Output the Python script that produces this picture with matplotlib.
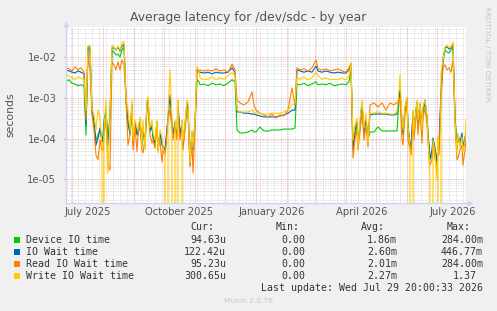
import datetime as dt

import numpy as np
import matplotlib
matplotlib.use('Agg')
import matplotlib.pyplot as plt
import matplotlib.dates as mdates
from matplotlib.lines import Line2D
from matplotlib.patches import Rectangle
from matplotlib.ticker import LogLocator, FixedLocator, NullFormatter

# ------------------------------- data (one point ~ one day)

start = dt.datetime(2025, 6, 24, 17, 0)

day = [0, 3, 6, 9, 12, 15, 18, 20, 22, 24, 26, 28, 30, 32, 34, 36, 37, 38, 40, 42, 44, 46, 48, 50, 52, 54, 56, 58,
       60, 62, 64, 66, 67, 69, 71, 72, 74, 76, 77, 79, 81, 82, 84, 86, 87, 89, 91, 92, 94, 96, 97, 99, 100, 102,
       104, 106, 107, 109, 111, 112, 114, 116, 117, 119, 121, 122, 124, 126, 127, 129, 131, 133,
       134, 138, 142, 146, 150, 154, 158, 162, 166, 169,
       171, 174, 178, 182, 186, 188, 190, 194, 198, 202, 206, 210, 214, 218, 222, 226, 229,
       231, 234, 238, 242, 246, 250, 252, 256, 260, 264, 268, 272, 276, 280, 283, 285,
       287, 289, 291, 292, 294, 296, 298, 300, 302,
       304, 308, 312, 316, 320, 324, 328, 331,
       333, 334, 336, 337, 339, 341, 342, 344, 345, 347, 348, 351, 352, 354, 356, 357, 359, 361, 362, 364,
       366, 367, 369, 371, 372, 373, 375,
       377, 379, 381, 383, 385, 387, 389,
       391, 392, 394, 396, 397, 399, 400]

device = [2.5e-3, 2.8e-3, 2.3e-3, 2.2e-3, 2.0e-3, 2.1e-3, 2.0e-3, 1.22e-4, 1.7e-2, 1.8e-2,
          5.0e-4, 2.15e-4, 9.2e-5, 1.22e-4, 1.62e-4, 9.2e-5, 1.22e-4, 2.86e-4, 5.0e-4, 9.2e-5,
          3.8e-4, 1.5e-2, 1.35e-2, 1.14e-2, 1.2e-2, 1.02e-2, 1.5e-2, 1.8e-2,
          8.9e-4, 2.86e-4, 1.22e-4, 5.6e-4, 6.9e-5, 2.15e-4, 1.37e-4, 1.22e-4, 2.55e-4, 6.2e-5,
          1.81e-4, 6.2e-5, 6.3e-4, 7.9e-4, 1.45e-4, 2.15e-4, 1.03e-4, 6.9e-5, 2.15e-4, 5.2e-5,
          1.22e-4, 8.2e-5, 5.8e-5, 4.7e-5, 8.2e-5, 3.2e-4, 5.0e-4, 2.15e-4, 1.09e-4, 2.15e-4,
          1.22e-4, 5.6e-4, 1.09e-4, 2.15e-4, 6.9e-5, 1.81e-4, 6.3e-4, 5.0e-4, 2.2e-5, 1.22e-4,
          5.8e-5, 2.15e-4, 2.8e-3, 2.5e-3,
          2.1e-3, 2.2e-3, 2.0e-3, 2.3e-3, 2.1e-3, 2.2e-3, 2.0e-3, 2.3e-3, 2.8e-3, 2.5e-3,
          1.62e-4, 1.37e-4, 1.37e-4, 1.45e-4, 1.62e-4, 1.45e-4, 1.45e-4, 1.92e-4, 1.53e-4, 1.53e-4,
          1.62e-4, 1.62e-4, 1.62e-4, 1.71e-4, 1.71e-4, 1.71e-4, 1.81e-4,
          2.2e-3, 2.1e-3, 2.3e-3, 2.0e-3, 2.2e-3, 2.5e-3, 2.1e-3, 2.2e-3, 2.1e-3, 2.3e-3,
          2.0e-3, 2.1e-3, 2.2e-3, 2.1e-3, 2.5e-3, 4.9e-3,
          6.9e-5, 1.22e-4, 2.15e-4, 6.9e-5, 1.81e-4, 6.7e-4, 1.22e-4, 2.55e-4, 9.2e-5,
          1.45e-4, 1.45e-4, 1.92e-4, 1.53e-4, 1.53e-4, 1.53e-4, 1.53e-4, 1.53e-4,
          8.9e-4, 1.4e-3, 2.15e-4, 1.22e-4, 5.0e-4, 8.9e-4, 1.81e-4, 6.9e-5, 5.2e-5, 3.8e-4,
          1.62e-4, 7.5e-4, 2.15e-4, 6.7e-4, 1.37e-4, 4.5e-4, 7.5e-4, 2.86e-4, 1.22e-4, 3.0e-5,
          3.9e-5, 9.2e-5, 5.2e-5, 2.2e-5, 9.2e-5, 5.2e-5, 1.18e-3,
          7.7e-3, 1.5e-2, 1.35e-2, 1.28e-2, 1.5e-2, 1.8e-2, 3.2e-4,
          5.2e-5, 1.03e-4, 6.9e-5, 1.09e-4, 5.2e-5, 9.2e-5, 9.5e-5]

iowait = [4.9e-3, 4.6e-3, 4.3e-3, 4.1e-3, 4.6e-3, 4.3e-3, 3.9e-3, 2.15e-4, 1.8e-2, 1.5e-2,
          4.5e-4, 2.86e-4, 6.9e-5, 1.03e-4, 1.81e-4, 8.2e-5, 9.2e-5, 2.15e-4, 5.0e-4, 6.9e-5,
          3.2e-4, 1.7e-2, 1.7e-2, 1.5e-2, 1.8e-2, 1.43e-2, 1.9e-2, 2.1e-2,
          9.9e-4, 2.15e-4, 1.45e-4, 6.7e-4, 7.7e-5, 2.55e-4, 1.22e-4, 1.45e-4, 2.86e-4, 6.9e-5,
          1.62e-4, 7.7e-5, 7.5e-4, 8.9e-4, 1.62e-4, 1.81e-4, 1.15e-4, 8.2e-5, 2.55e-4, 5.8e-5,
          1.37e-4, 6.9e-5, 6.2e-5, 5.2e-5, 9.2e-5, 3.4e-4, 1.18e-3, 2.41e-4, 1.22e-4, 2.55e-4,
          1.37e-4, 7.1e-4, 1.22e-4, 2.55e-4, 7.7e-5, 2.15e-4, 7.5e-4, 6.0e-4, 3.0e-5, 1.37e-4,
          5.2e-5, 2.41e-4, 4.9e-3, 4.6e-3,
          4.3e-3, 4.1e-3, 4.3e-3, 3.9e-3, 4.3e-3, 4.1e-3, 4.1e-3, 4.3e-3, 5.5e-3, 4.3e-3,
          4.5e-4, 4.5e-4, 4.2e-4, 4.2e-4, 4.0e-4, 4.0e-4, 3.8e-4, 3.6e-4, 3.4e-4, 3.4e-4,
          3.4e-4, 3.4e-4, 3.6e-4, 3.8e-4, 4.2e-4, 5.0e-4, 5.0e-4,
          4.9e-3, 4.6e-3, 4.3e-3, 4.6e-3, 4.3e-3, 6.1e-3, 4.6e-3, 4.3e-3, 4.6e-3, 4.3e-3,
          4.1e-3, 4.3e-3, 4.1e-3, 4.1e-3, 4.9e-3, 6.8e-3,
          5.2e-5, 1.62e-4, 2.55e-4, 7.7e-5, 2.15e-4, 7.5e-4, 1.62e-4, 3.2e-4, 9.2e-5,
          3.8e-4, 4.0e-4, 4.0e-4, 4.0e-4, 4.0e-4, 3.8e-4, 3.8e-4, 4.0e-4,
          9.9e-4, 1.57e-3, 2.55e-4, 1.45e-4, 5.6e-4, 9.9e-4, 2.15e-4, 7.7e-5, 5.8e-5, 4.2e-4,
          1.81e-4, 7.9e-4, 2.86e-4, 7.1e-4, 1.62e-4, 5.0e-4, 8.9e-4, 3.4e-4, 1.37e-4, 3.3e-5,
          5.2e-5, 1.03e-4, 5.8e-5, 2.5e-5, 1.03e-4, 6.9e-5, 1.57e-3,
          8.6e-3, 1.7e-2, 1.8e-2, 1.6e-2, 1.7e-2, 2.1e-2, 3.8e-4,
          5.8e-5, 1.22e-4, 8.2e-5, 1.37e-4, 5.8e-5, 1.09e-4, 1.22e-4]

readwait = [5.5e-3, 5.2e-3, 4.6e-3, 5.8e-3, 4.9e-3, 5.5e-3, 4.3e-3, 2.86e-4, 1.14e-2, 4.9e-3,
            3.8e-4, 1.62e-4, 3.9e-5, 3.0e-5, 9.2e-5, 5.2e-5, 5.2e-5, 1.22e-4, 2.86e-4, 2.2e-5,
            1.67e-5, 7.7e-3, 6.5e-3, 4.9e-3, 7.7e-3, 4.9e-3, 8.6e-3, 6.5e-3,
            8.9e-4, 6.9e-5, 1.22e-4, 5.0e-4, 5.2e-5, 2.15e-4, 4.7e-5, 1.22e-4, 2.15e-4, 5.2e-5,
            4.4e-5, 9.2e-5, 5.6e-4, 6.7e-4, 1.22e-4, 7.7e-5, 9.2e-5, 5.8e-5, 2.15e-4, 5.2e-5,
            9.2e-5, 2.6e-5, 5.2e-5, 3.9e-5, 6.9e-5, 2.86e-4, 5.0e-4, 1.62e-4, 9.2e-5, 2.15e-4,
            9.2e-5, 5.0e-4, 9.2e-5, 1.81e-4, 5.2e-5, 1.62e-4, 5.6e-4, 3.8e-4, 2.0e-5, 9.2e-5,
            1.41e-5, 1.62e-4, 4.3e-3, 4.3e-3,
            4.9e-3, 4.6e-3, 4.9e-3, 4.6e-3, 5.2e-3, 4.6e-3, 4.9e-3, 4.3e-3, 6.8e-3, 4.9e-3,
            8.9e-4, 7.5e-4, 6.7e-4, 7.9e-4, 1.4e-3, 6.7e-4, 5.0e-4, 4.2e-4, 3.8e-4, 3.4e-4,
            4.0e-4, 3.2e-4, 3.8e-4, 3.6e-4, 5.0e-4, 1.75e-3, 6.7e-4,
            5.5e-3, 4.9e-3, 5.2e-3, 4.6e-3, 5.5e-3, 8.6e-3, 5.2e-3, 4.9e-3, 5.2e-3, 4.6e-3,
            4.9e-3, 5.2e-3, 4.6e-3, 4.3e-3, 5.5e-3, 7.2e-3,
            3.3e-5, 9.2e-5, 1.62e-4, 5.2e-5, 1.45e-4, 4.5e-4, 9.2e-5, 2.15e-4, 6.2e-5,
            6.7e-4, 7.5e-4, 6.0e-4, 7.5e-4, 5.0e-4, 7.5e-4, 6.7e-4, 7.9e-4,
            7.9e-4, 1.05e-3, 9.2e-5, 6.9e-5, 3.8e-4, 7.5e-4, 9.2e-5, 5.2e-5, 3.9e-5, 2.86e-4,
            9.2e-5, 5.6e-4, 1.22e-4, 5.0e-4, 7.7e-5, 3.2e-4, 5.6e-4, 2.15e-4, 8.2e-5, 2.2e-5,
            3.0e-5, 6.9e-5, 3.3e-5, 1.67e-5, 5.2e-5, 3.9e-5, 8.9e-4,
            5.5e-3, 6.5e-3, 4.9e-3, 5.5e-3, 4.3e-3, 8.6e-3, 2.15e-4,
            3.0e-5, 3.3e-5, 5.2e-5, 6.9e-5, 2.2e-5, 5.2e-5, 9.5e-5]

writewait = [3.7e-3, 3.5e-3, 3.1e-3, 2.9e-3, 3.3e-3, 3.1e-3, 2.8e-3, 5.0e-4, 1.9e-2, 2.0e-2,
             5.6e-4, 3.8e-4, 1.62e-4, 5.0e-4, 3.4e-4, 6.9e-5, 0.0, 1.62e-4, 8.9e-4, 1.41e-5,
             4.2e-4, 2.0e-2, 1.8e-2, 1.5e-2, 1.9e-2, 1.5e-2, 2.25e-2, 2.5e-2,
             1.05e-3, 5.0e-4, 1.62e-4, 8.9e-4, 9.2e-5, 2.86e-4, 1.92e-4, 1.62e-4, 3.4e-4, 6.2e-5,
             2.86e-4, 5.2e-5, 8.9e-4, 1.05e-3, 1.92e-4, 2.86e-4, 1.37e-4, 9.2e-5, 2.86e-4, 4.4e-5,
             1.62e-4, 1.09e-4, 6.2e-5, 4.4e-5, 0.0, 4.2e-4, 4.9e-3, 2.86e-4, 0.0, 2.86e-4,
             1.62e-4, 8.9e-4, 0.0, 2.86e-4, 9.2e-5, 2.41e-4, 8.9e-4, 7.5e-4, 2.5e-5, 1.62e-4,
             6.2e-5, 2.86e-4, 5.8e-3, 4.9e-3,
             3.1e-3, 2.8e-3, 2.9e-3, 3.3e-3, 2.8e-3, 3.1e-3, 2.9e-3, 3.5e-3, 4.3e-3, 3.5e-3,
             5.0e-4, 4.5e-4, 4.5e-4, 4.5e-4, 5.0e-4, 4.5e-4, 4.2e-4, 4.2e-4, 4.0e-4, 4.0e-4,
             4.2e-4, 4.2e-4, 4.2e-4, 4.5e-4, 5.0e-4, 6.7e-4, 7.5e-4,
             3.1e-3, 2.9e-3, 3.3e-3, 2.8e-3, 3.1e-3, 4.3e-3, 3.5e-3, 2.9e-3, 3.1e-3, 2.8e-3,
             2.9e-3, 2.8e-3, 3.1e-3, 2.8e-3, 3.5e-3, 7.2e-3,
             9.2e-5, 2.15e-4, 3.2e-4, 6.2e-5, 2.86e-4, 8.9e-4, 1.81e-4, 4.2e-4, 7.7e-5,
             4.2e-4, 4.2e-4, 4.5e-4, 4.2e-4, 4.2e-4, 4.0e-4, 4.0e-4, 4.5e-4,
             1.57e-3, 3.7e-3, 2.86e-4, 1.62e-4, 6.0e-4, 1.05e-3, 1.92e-4, 6.2e-5, 0.0, 5.0e-4,
             1.62e-4, 8.9e-4, 2.86e-4, 7.5e-4, 1.62e-4, 6.0e-4, 8.9e-4, 3.4e-4, 1.09e-4, 1.13e-5,
             0.0, 9.2e-5, 4.4e-5, 9.5e-6, 1.09e-4, 0.0, 4.1e-3,
             8.6e-3, 1.8e-2, 2.0e-2, 1.7e-2, 1.8e-2, 2.4e-2, 2.86e-4,
             4.4e-5, 1.37e-4, 6.2e-5, 1.09e-4, 4.7e-5, 9.2e-5, 3.0e-4]

series_names = ['Device IO time', 'IO Wait time', 'Read IO Wait time', 'Write IO Wait time']
series_colors = ['#00cc00', '#0066b3', '#ff8000', '#ffcc00']
cur_vals = ['94.63u', '122.42u', '95.23u', '300.65u']
min_vals = ['0.00', '0.00', '0.00', '0.00']
avg_vals = ['1.86m', '2.60m', '2.01m', '2.27m']
max_vals = ['284.00m', '446.77m', '284.00m', '1.37']

# -------------------------------

W, H = 497, 311
bg = '#f0f0f0'
txt = '#555555'
axis_col = '#ccd3f4'

fig = plt.figure(figsize=(W / 100, H / 100), dpi=100, facecolor=bg)
ax = fig.add_axes([66 / W, (H - 203) / H, 400 / W, 176 / H])
ax.set_facecolor('white')
for sp in ax.spines.values():
    sp.set_visible(False)

x0 = mdates.date2num(start)
x = x0 + np.array(day, dtype=float)
ax.set_xlim(x0, x0 + 400)
d0 = mdates.num2date(x0)
d1 = mdates.num2date(x0 + 400)

ax.set_yscale('log', nonpositive='clip')
ax.set_ylim(2.58e-6, 5.57e-2)

# grid: weeks (grey) and months (red), decades red, sub-decades grey
dot = (0, (1, 1))
for t in mdates.WeekdayLocator(byweekday=mdates.MO).tick_values(d0, d1):
    ax.axvline(t, color='#d6d6d6', lw=0.6, ls=dot, zorder=0.5)
for t in mdates.MonthLocator().tick_values(d0, d1):
    if x0 < t < x0 + 400:
        ax.axvline(t, color='#eba3a3', lw=0.6, ls=dot, zorder=0.6)

ax.yaxis.set_major_locator(FixedLocator([1e-5, 1e-4, 1e-3, 1e-2]))
ax.set_yticklabels(['1e-05', '1e-04', '1e-03', '1e-02'])
ax.yaxis.set_minor_locator(LogLocator(base=10, subs=np.arange(2, 10)))
ax.yaxis.set_minor_formatter(NullFormatter())
ax.grid(which='minor', axis='y', color='#d6d6d6', lw=0.6, ls=dot)
ax.grid(which='major', axis='y', color='#eba3a3', lw=0.6, ls=dot)
ax.set_axisbelow(True)
ax.tick_params(axis='y', which='major', length=2, width=0.6, color='#eba3a3',
               labelsize=7.3, labelcolor=txt, pad=5)
ax.tick_params(axis='y', which='minor', length=0)

# x labels centred mid-month every quarter
ax.xaxis.set_major_locator(mdates.MonthLocator(bymonth=(1, 4, 7, 10), bymonthday=16))
ax.xaxis.set_major_formatter(mdates.DateFormatter('%B %Y'))
ax.tick_params(axis='x', which='major', length=0, labelsize=7.2, labelcolor=txt, pad=3)

# data
for vals, col in zip([device, iowait, readwait, writewait], series_colors):
    ax.plot(x, vals, color=col, lw=0.8, zorder=3)

# axis lines with arrows
def fx(px):
    return px / W

def fy(py):
    return 1 - py / H

fig.add_artist(Line2D([fx(66), fx(66)], [fy(203), fy(24)], color=axis_col, lw=1))
fig.add_artist(Line2D([fx(66), fx(470)], [fy(203), fy(203)], color=axis_col, lw=1))
fig.add_artist(Line2D([fx(66)], [fy(24)], marker='^', ms=5, color=axis_col, mec='none'))
fig.add_artist(Line2D([fx(470)], [fy(203)], marker='>', ms=5, color=axis_col, mec='none'))

# titles
fig.text(0.5, fy(18), 'Average latency for /dev/sdc - by year', ha='center', va='center',
         fontsize=8.9, color=txt)
fig.text(fx(10), fy(115), 'seconds', rotation=90, ha='center', va='center', fontsize=7.8, color=txt)
fig.text(fx(487), fy(6), 'RRDTOOL / TOBI OETIKER', rotation=270, ha='center', va='top',
         fontsize=5.4, color='#c4c4c4')

# legend
mono = 'DejaVu Sans Mono'
lfs = 7.1
lcol = '#333333'
fig.text(fx(214), fy(227), 'Cur:', ha='right', va='center', family=mono, fontsize=lfs, color=lcol)
fig.text(fx(299.5), fy(227), 'Min:', ha='right', va='center', family=mono, fontsize=lfs, color=lcol)
fig.text(fx(385), fy(227), 'Avg:', ha='right', va='center', family=mono, fontsize=lfs, color=lcol)
fig.text(fx(470.5), fy(227), 'Max:', ha='right', va='center', family=mono, fontsize=lfs, color=lcol)

for i, name in enumerate(series_names):
    yy = 239.8 + 12 * i
    fig.add_artist(Rectangle((fx(14), fy(yy + 3)), 6 / W, 6 / H, transform=fig.transFigure,
                             facecolor=series_colors[i], edgecolor='none'))
    fig.text(fx(26), fy(yy), name, ha='left', va='center', family=mono, fontsize=lfs, color=lcol)
    fig.text(fx(226), fy(yy), cur_vals[i], ha='right', va='center', family=mono, fontsize=lfs, color=lcol)
    fig.text(fx(305), fy(yy), min_vals[i], ha='right', va='center', family=mono, fontsize=lfs, color=lcol)
    fig.text(fx(397), fy(yy), avg_vals[i], ha='right', va='center', family=mono, fontsize=lfs, color=lcol)
    mx = max_vals[i]
    fig.text(fx(483 if mx.endswith('m') else 477), fy(yy), mx, ha='right', va='center',
             family=mono, fontsize=lfs, color=lcol)

fig.text(fx(483), fy(287.8), 'Last update: Wed Jul 29 20:00:33 2026', ha='right', va='center',
         family=mono, fontsize=lfs, color=lcol)
fig.text(fx(248), fy(300.7), 'Munin 2.0.76', ha='center', va='center', fontsize=5.4, color='#c8c8c8')

fig.savefig('out.png', dpi=100, facecolor=bg)
plt.close('all')
